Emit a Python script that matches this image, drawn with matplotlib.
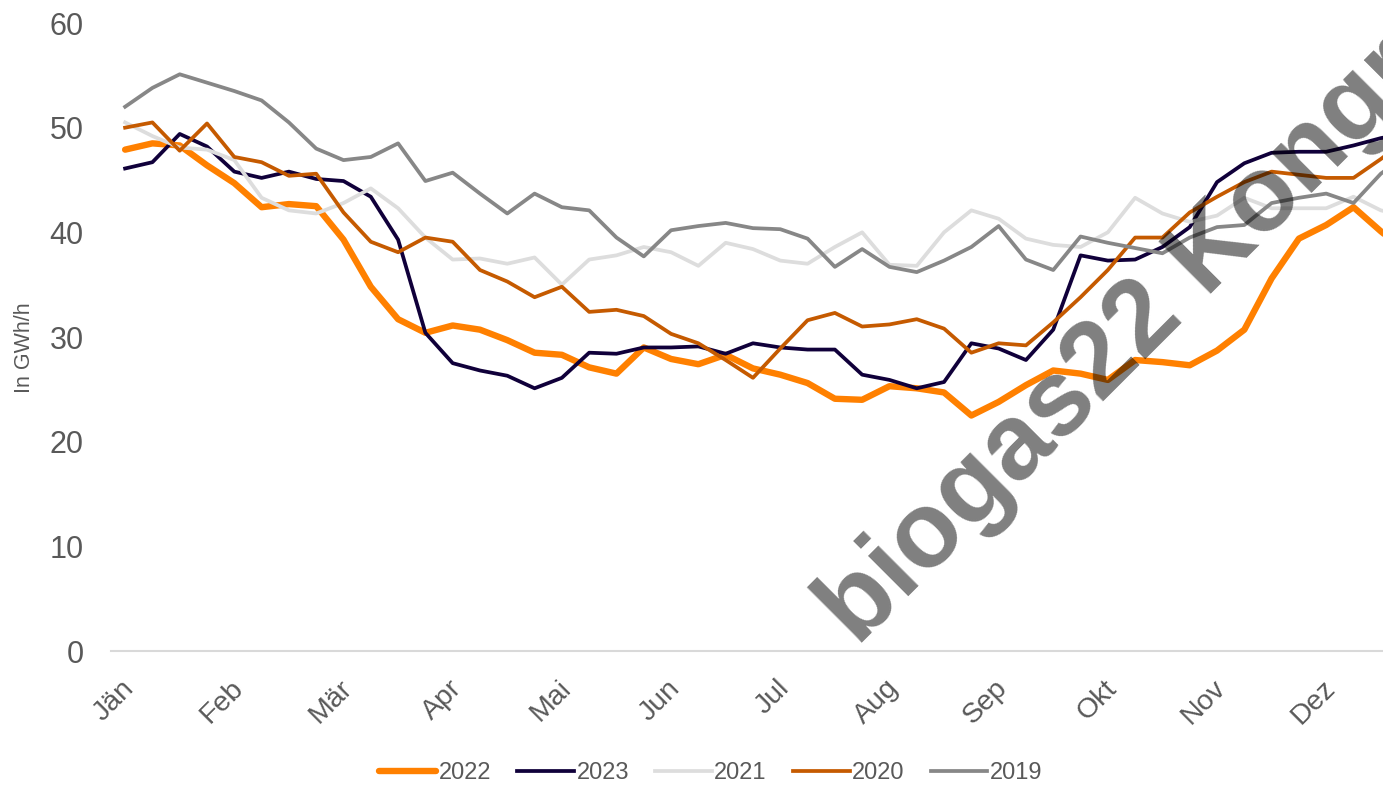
import matplotlib
matplotlib.use("Agg")
import matplotlib.pyplot as plt
import matplotlib.transforms as mtransforms

plt.rcParams['font.family'] = ['Liberation Sans', 'DejaVu Sans']

# weekly values (in GWh/h)
months = ['Jän', 'Feb', 'Mär', 'Apr', 'Mai', 'Jun', 'Jul', 'Aug', 'Sep', 'Okt', 'Nov', 'Dez']
month_weeks = [0, 4, 8, 12, 16, 20, 24, 28, 32, 36, 40, 44]

y2022 = [47.9, 48.5, 48.3, 46.4, 44.7, 42.4, 42.7, 42.5, 39.3, 34.8, 31.7, 30.4,
         31.1, 30.7, 29.7, 28.5, 28.3, 27.1, 26.5, 29.0, 27.9, 27.4, 28.3, 27.0,
         26.4, 25.6, 24.1, 24.0, 25.3, 25.1, 24.7, 22.5, 23.8, 25.4, 26.8, 26.5,
         25.9, 27.8, 27.6, 27.3, 28.7, 30.7, 35.6, 39.4, 40.7, 42.4, 40.1, 38.0]
y2023 = [46.1, 46.7, 49.4, 48.2, 45.8, 45.2, 45.8, 45.1, 44.9, 43.4, 39.3, 30.4,
         27.5, 26.8, 26.3, 25.1, 26.1, 28.5, 28.4, 29.0, 29.0, 29.1, 28.4, 29.4,
         29.0, 28.8, 28.8, 26.4, 25.9, 25.1, 25.7, 29.4, 28.9, 27.8, 30.7, 37.8,
         37.3, 37.4, 38.6, 40.5, 44.8, 46.6, 47.6, 47.7, 47.7, 48.3, 49.0, 49.5]
y2021 = [50.5, 49.2, 48.1, 47.9, 46.9, 43.3, 42.1, 41.8, 42.8, 44.2, 42.3, 39.5,
         37.4, 37.5, 37.0, 37.6, 35.0, 37.4, 37.8, 38.6, 38.1, 36.8, 39.0, 38.4,
         37.3, 37.0, 38.6, 40.0, 36.9, 36.8, 40.0, 42.1, 41.3, 39.4, 38.8, 38.6,
         40.0, 43.3, 41.8, 41.0, 41.6, 43.3, 42.3, 42.3, 42.3, 43.4, 42.1, 41.5]
y2020 = [50.0, 50.5, 47.8, 50.4, 47.2, 46.7, 45.4, 45.6, 41.9, 39.1, 38.1, 39.5,
         39.1, 36.4, 35.3, 33.8, 34.8, 32.4, 32.6, 32.0, 30.3, 29.4, 27.8, 26.1,
         28.9, 31.6, 32.3, 31.0, 31.2, 31.7, 30.8, 28.5, 29.4, 29.2, 31.4, 33.8,
         36.4, 39.5, 39.5, 41.9, 43.4, 44.8, 45.8, 45.5, 45.2, 45.2, 47.0, 49.0]
y2019 = [52.0, 53.8, 55.1, 54.3, 53.5, 52.6, 50.5, 48.0, 46.9, 47.2, 48.5, 44.9,
         45.7, 43.7, 41.8, 43.7, 42.4, 42.1, 39.5, 37.7, 40.2, 40.6, 40.9, 40.4,
         40.3, 39.4, 36.7, 38.4, 36.7, 36.2, 37.3, 38.6, 40.6, 37.4, 36.4, 39.6,
         39.0, 38.5, 38.0, 39.5, 40.5, 40.7, 42.8, 43.3, 43.7, 42.8, 45.6, 47.5]

weeks = list(range(len(y2022)))

fig = plt.figure(figsize=(13.83, 7.85), dpi=100)
ax = fig.add_axes([0.0806, 0.1707, 0.9194, 0.80])

ax.plot(weeks, y2022, color='#FF8000', lw=4.6, label='2022', solid_capstyle='round')
ax.plot(weeks, y2023, color='#10003A', lw=2.7, label='2023')
ax.plot(weeks, y2021, color='#DDDDDD', lw=2.7, label='2021')
ax.plot(weeks, y2020, color='#C55A00', lw=2.7, label='2020')
ax.plot(weeks, y2019, color='#878787', lw=2.7, label='2019')

ax.set_xlim(-0.5, 46.08)
ax.set_ylim(0, 60)
ax.set_yticks([0, 10, 20, 30, 40, 50, 60])
ax.set_xticks(month_weeks)
ax.set_xticklabels(months)

for s in ['top', 'right', 'left']:
    ax.spines[s].set_visible(False)
ax.spines['bottom'].set_color('#D9D9D9')
ax.spines['bottom'].set_linewidth(1.5)

ax.tick_params(axis='y', length=0, pad=20, labelsize=22, labelcolor='#595959')
ax.tick_params(axis='x', length=0, pad=24, labelsize=20.5, labelcolor='#595959')

offset = mtransforms.ScaledTranslation(5 / 100, 0, fig.dpi_scale_trans)
for lab in ax.get_xticklabels():
    lab.set_rotation(45)
    lab.set_ha('right')
    lab.set_va('center')
    lab.set_rotation_mode('anchor')
    lab.set_transform(lab.get_transform() + offset)

fig.text(25 / 1383, 1 - 348 / 785, 'In GWh/h', rotation=90, ha='center', va='center',
         fontsize=15.5, color='#595959')

leg = fig.legend(loc='center', bbox_to_anchor=(0.514, 0.0153), ncol=5, frameon=False,
                 fontsize=17, handlelength=2.4, handletextpad=0.12, columnspacing=1.1,
                 labelcolor='#595959')

# watermark
fig.text(857 / 1383, 1 - 647 / 785, 'biogas22 Kongress', rotation=45, rotation_mode='anchor',
         ha='left', va='baseline', fontsize=77, fontweight='bold', color='black',
         alpha=0.5)

fig.savefig('out.png', dpi=100)
